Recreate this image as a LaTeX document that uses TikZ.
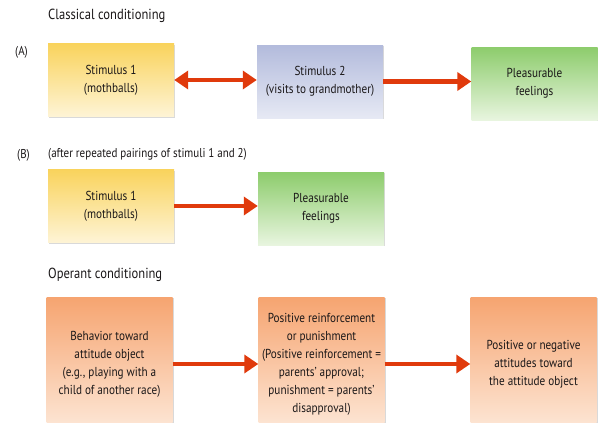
\documentclass[tikz,border=0pt]{standalone}
\usepackage{fontspec}
\setmainfont{PT Sans}[FakeStretch=0.86]
\usetikzlibrary{arrows.meta,shadows}
\definecolor{arr}{HTML}{E03A0C}
\definecolor{yelT}{HTML}{F9D35C}
\definecolor{yelB}{HTML}{FEF4D6}
\definecolor{bluT}{HTML}{B3BBDC}
\definecolor{bluB}{HTML}{E6E9F4}
\definecolor{greT}{HTML}{8DCC6C}
\definecolor{greB}{HTML}{E8F5DF}
\definecolor{oraT}{HTML}{F6A470}
\definecolor{oraB}{HTML}{FDE8D8}
\definecolor{txt}{HTML}{1A1718}
\tikzset{
  box/.style={minimum width=126pt, minimum height=73pt, inner sep=2pt, align=center,
    font=\fontsize{13}{18}\selectfont, text=txt,
    drop shadow={shadow xshift=1.2pt, shadow yshift=-1.2pt, opacity=0.3}},
  yel/.style={box, top color=yelT, bottom color=yelB},
  blu/.style={box, top color=bluT, bottom color=bluB},
  gre/.style={box, top color=greT, bottom color=greB},
  ora/.style={box, top color=oraT, bottom color=oraB, minimum height=134pt},
  heading/.style={anchor=west, inner sep=0pt, font=\fontsize{14.6}{16}\selectfont, text=txt},
  lbl/.style={anchor=west, inner sep=0pt, font=\fontsize{12.8}{14}\selectfont, text=txt},
  conn/.style={draw=arr, line width=4.5pt, -{Triangle[length=14pt,width=18pt]}},
  dconn/.style={draw=arr, line width=4.5pt, {Triangle[length=14pt,width=18pt]}-{Triangle[length=14pt,width=18pt]}}
}
\begin{document}
\begin{tikzpicture}[x=1pt,y=-1pt]
\useasboundingbox (0,0) rectangle (598,423);
\clip (0,0) rectangle (598,423);
\node[heading] (t1) at (48,16) {Classical conditioning};
\node[lbl] (la) at (15,52) {(A)};
\node[yel] (a1) at (111,80) {Stimulus 1\\(mothballs)};
\node[blu] (a2) at (320,81.5) {Stimulus 2\\(visits to grandmother)};
\node[gre] (a3) at (534.5,83.5) {Pleasurable\\feelings};
\draw[dconn] (a1.east) -- (a1.east -| a2.west);
\draw[conn] (a2.east) -- (a2.east -| a3.west);

\node[lbl] (lb) at (17,155) {(B)};
\node[lbl] (t2) at (48,154) {(after repeated pairings of stimuli 1 and 2)};
\node[yel] (b1) at (111,206) {Stimulus 1\\(mothballs)};
\node[gre] (b2) at (321,208.5) {Pleasurable\\feelings};
\draw[conn] (b1.east) -- (b1.east -| b2.west);

\node[heading] (t3) at (48,275) {Operant conditioning};
\node[ora] (c1) at (109.5,364) {Behavior toward\\attitude object\\(e.g., playing with a\\child of another race)};
\node[ora] (c2) at (321.5,364) {Positive reinforcement\\or punishment\\(Positive reinforcement =\\parents’ approval;\\punishment = parents’\\disapproval)};
\node[ora] (c3) at (533.5,364) {Positive or negative\\attitudes toward\\the attitude object};
\draw[conn] (c1.east) -- (c1.east -| c2.west);
\draw[conn] (c2.east) -- (c2.east -| c3.west);
\end{tikzpicture}
\end{document}
